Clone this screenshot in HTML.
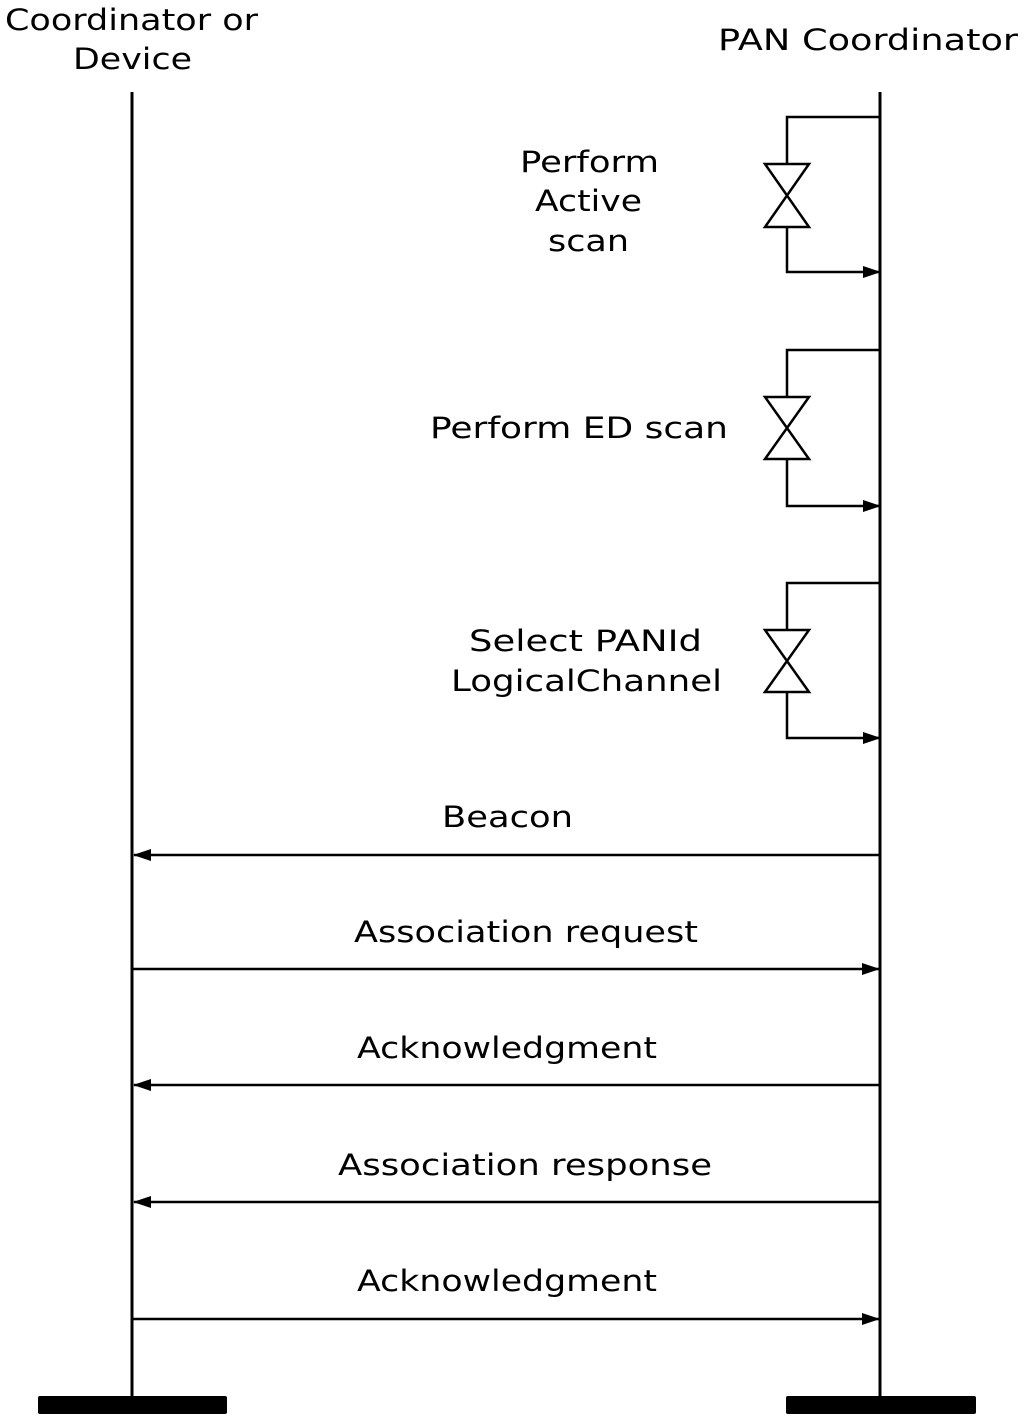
<!DOCTYPE html>
<html><head><style>body{margin:0;background:#fff}svg{display:block}</style></head><body>
<svg width="1024" height="1421" viewBox="0 0 1024 1421" xmlns="http://www.w3.org/2000/svg" font-family="DejaVu Sans, Liberation Sans, sans-serif" font-size="29" fill="#000">
<defs><marker id="a" markerWidth="18" markerHeight="12" refX="17" refY="6" orient="auto" markerUnits="userSpaceOnUse"><path d="M0,0 L18,6 L0,12 z" fill="#000"/></marker></defs>
<g lengthAdjust="spacingAndGlyphs">
<text x="5" y="30" textLength="253" lengthAdjust="spacingAndGlyphs">Coordinator or</text>
<text x="73" y="69" textLength="119" lengthAdjust="spacingAndGlyphs">Device</text>
<text x="718" y="50" textLength="300" lengthAdjust="spacingAndGlyphs">PAN Coordinator</text>
<text x="520" y="172" textLength="139" lengthAdjust="spacingAndGlyphs">Perform</text>
<text x="535" y="211" textLength="107" lengthAdjust="spacingAndGlyphs">Active</text>
<text x="548" y="251" textLength="81" lengthAdjust="spacingAndGlyphs">scan</text>
<text x="430" y="438" textLength="298" lengthAdjust="spacingAndGlyphs">Perform ED scan</text>
<text x="469" y="651" textLength="233" lengthAdjust="spacingAndGlyphs">Select PANId</text>
<text x="451" y="691" textLength="271" lengthAdjust="spacingAndGlyphs">LogicalChannel</text>
<text x="442" y="827" textLength="131" lengthAdjust="spacingAndGlyphs">Beacon</text>
<text x="354" y="942" textLength="344" lengthAdjust="spacingAndGlyphs">Association request</text>
<text x="357" y="1058" textLength="300" lengthAdjust="spacingAndGlyphs">Acknowledgment</text>
<text x="338" y="1175" textLength="374" lengthAdjust="spacingAndGlyphs">Association response</text>
<text x="357" y="1291" textLength="300" lengthAdjust="spacingAndGlyphs">Acknowledgment</text>
</g>
<line x1="132" y1="92" x2="132" y2="1398" stroke="#000" stroke-width="3"/>
<line x1="880" y1="92" x2="880" y2="1398" stroke="#000" stroke-width="3"/>
<rect x="38" y="1396" width="189" height="18" rx="2"/>
<rect x="786" y="1396" width="190" height="18" rx="2"/>
<g fill="none" stroke="#000" stroke-width="2.5">
<path d="M880,117 H787 V164 M787,227 V272 H880" marker-end="url(#a)"/>
<path d="M765,164 H809 L765,227 H809 Z"/>
<path d="M880,350 H787 V397 M787,459 V506 H880" marker-end="url(#a)"/>
<path d="M765,397 H809 L765,459 H809 Z"/>
<path d="M880,583 H787 V630 M787,692 V738 H880" marker-end="url(#a)"/>
<path d="M765,630 H809 L765,692 H809 Z"/>
<line x1="880" y1="855" x2="134" y2="855" marker-end="url(#a)"/>
<line x1="132" y1="969" x2="879" y2="969" marker-end="url(#a)"/>
<line x1="880" y1="1085" x2="134" y2="1085" marker-end="url(#a)"/>
<line x1="880" y1="1202" x2="134" y2="1202" marker-end="url(#a)"/>
<line x1="132" y1="1319" x2="879" y2="1319" marker-end="url(#a)"/>
</g>
</svg>
</body></html>
